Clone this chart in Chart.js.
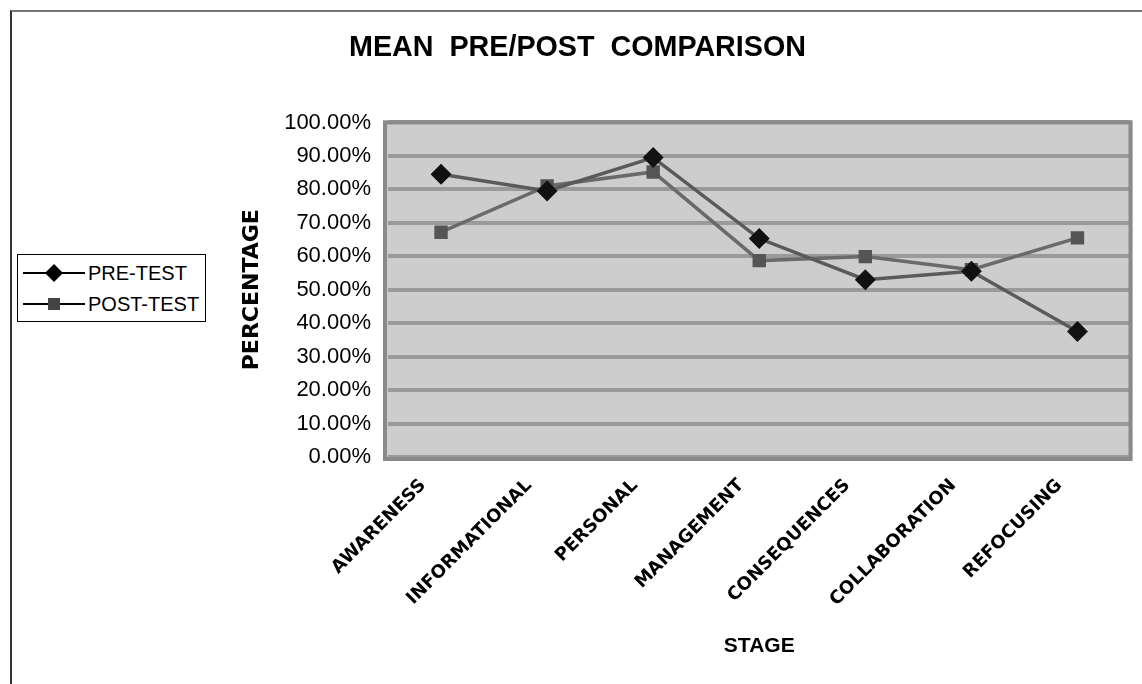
<!DOCTYPE html>
<html>
<head>
<meta charset="utf-8">
<script src="https://cdn.jsdelivr.net/npm/chart.js@4/dist/chart.umd.min.js"></script>
<style>
html,body{margin:0;padding:0;background:#fff;}
#wrap{position:relative;width:1142px;height:684px;overflow:hidden;}
#frame{position:absolute;left:10px;top:10px;width:1140px;height:680px;border-left:2px solid #333;border-top:2px solid #777;}
canvas{position:absolute;left:0;top:0;}
#legend{position:absolute;left:17px;top:254px;width:187px;height:66px;border:1px solid #000;background:#fff;font-family:"Liberation Sans",Arial,sans-serif;font-size:20px;color:#000;}
.li{position:absolute;left:3px;height:28px;display:flex;align-items:center;}
.li svg{display:block;margin-right:1px;}
</style>
</head>
<body>
<div id="wrap">
<div id="frame"></div>
<canvas id="c" width="1142" height="684"></canvas>
<div id="legend"></div>
</div>
<script>
const categories = ["AWARENESS","INFORMATIONAL","PERSONAL","MANAGEMENT","CONSEQUENCES","COLLABORATION","REFOCUSING"];
const preTest  = [84.5, 79.5, 89.5, 65.3, 53.0, 55.5, 37.5];
const postTest = [67.2, 81.0, 85.2, 58.7, 59.9, 56.0, 65.5];
const seriesNames = ["PRE-TEST","POST-TEST"];
const yTicks = [0,10,20,30,40,50,60,70,80,90,100];

// HTML legend
const lg = document.getElementById('legend');
lg.innerHTML =
 '<div class="li" style="top:4px"><svg width="66" height="24"><line x1="2" y1="12" x2="64" y2="12" stroke="#000" stroke-width="2"/><polygon points="33,3 42,12 33,21 24,12" fill="#000"/></svg>'+seriesNames[0]+'</div>'+
 '<div class="li" style="top:35px"><svg width="66" height="24"><line x1="2" y1="12" x2="64" y2="12" stroke="#000" stroke-width="2"/><rect x="27" y="6" width="12" height="12" fill="#444"/></svg>'+seriesNames[1]+'</div>';

const plotBg = {
  id:'plotBg',
  beforeDraw(chart){
    const {ctx, chartArea:a} = chart;
    ctx.save();
    ctx.fillStyle = '#cdcdcd';
    ctx.fillRect(a.left-5, a.top-2, a.right-a.left+7, a.bottom-a.top+6);
    ctx.restore();
  },
  afterDatasetsDraw(chart){
    const {ctx, chartArea:a} = chart;
    ctx.save();
    ctx.strokeStyle = '#8a8a8a';
    ctx.lineWidth = 4;
    ctx.strokeRect(a.left-3, a.top, a.right-a.left+3, a.bottom-a.top+2);
    ctx.restore();
  }
};

new Chart(document.getElementById('c'), {
  type:'line',
  data:{
    labels: categories,
    datasets:[
      {label:seriesNames[0], data:preTest, borderColor:'#5a5a5a', borderWidth:3.5,
       pointStyle:'rectRot', pointRadius:8, pointBackgroundColor:'#111', pointBorderColor:'#111', tension:0},
      {label:seriesNames[1], data:postTest, borderColor:'#6a6a6a', borderWidth:3.5,
       pointStyle:'rect', pointRadius:7, pointBackgroundColor:'#555', pointBorderColor:'#555', tension:0}
    ]
  },
  options:{
    responsive:false,
    animation:false,
    events:[],
    layout:{padding:{left:22, right:9, top:0, bottom:18}},
    plugins:{
      legend:{display:false},
      tooltip:{enabled:false},
      title:{display:true, text:'MEAN  PRE/POST  COMPARISON', color:'#000',
        font:{family:'"Liberation Sans", Arial, sans-serif', size:28.7, weight:'bold'},
        padding:{top:31, bottom:57}}
    },
    scales:{
      x:{
        offset:true,
        grid:{display:false, drawTicks:false},
        border:{display:false},
        ticks:{color:'#000', maxRotation:45, minRotation:45, padding:18, labelOffset:-18,
          font:{family:'"DejaVu Sans", sans-serif', size:18, weight:'bold'}},
        title:{display:true, text:'STAGE', color:'#000',
          font:{family:'"Liberation Sans", Arial, sans-serif', size:21, weight:'bold'},
          padding:{top:4, bottom:7}},
        afterFit(s){ s.height = 209; }
      },
      y:{
        min:0, max:100,
        afterBuildTicks(s){ s.ticks = yTicks.map(v=>({value:v})); },
        grid:{color:'#9a9a9a', lineWidth:4, drawTicks:false},
        border:{display:false},
        ticks:{color:'#000', padding:17,
          font:{family:'"Liberation Sans", Arial, sans-serif', size:22},
          callback:v=>v.toFixed(2)+'%'},
        title:{display:true, text:'PERCENTAGE', color:'#000',
          font:{family:'"DejaVu Sans", sans-serif', size:22, weight:'bold'},
          padding:{top:217, bottom:0}},
        afterFit(s){ s.width = 366; }
      }
    }
  },
  plugins:[plotBg]
});
</script>
</body>
</html>
